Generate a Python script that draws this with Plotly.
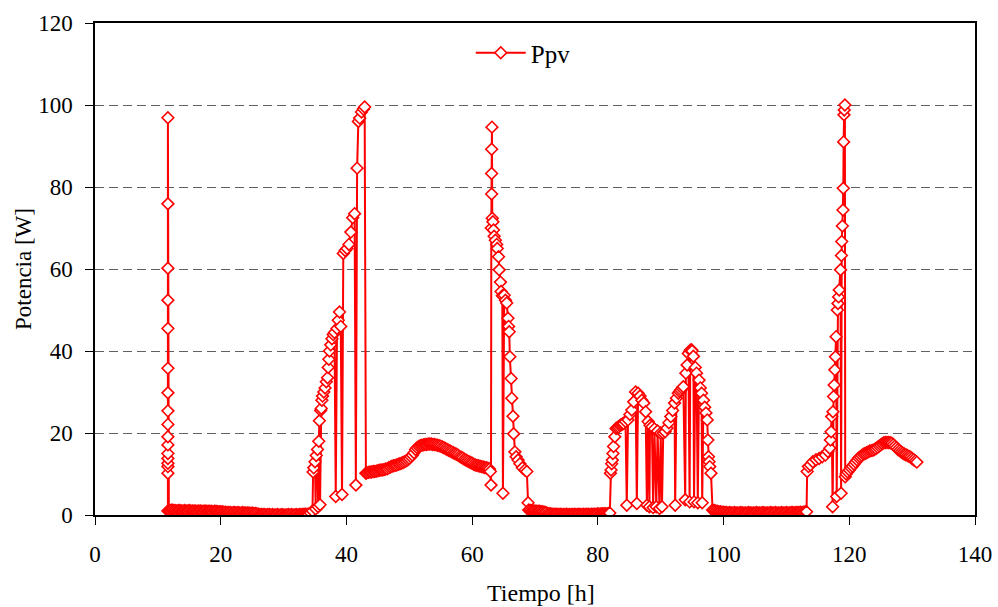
import plotly.graph_objects as go

# ---- Data: time [h] and PV power Ppv [W] ----
# spike at ~11.6 h
t_a = [11.6, 11.6, 11.6, 11.6, 11.6, 11.6, 11.6, 11.6, 11.6, 11.6,
       11.6, 11.6, 11.6, 11.6, 11.6, 11.6, 11.6]
p_a = [1.0, 10.2, 11.8, 12.6, 13.8, 15.0, 17.1, 19.1, 22.1, 25.4,
       29.8, 35.8, 45.5, 52.4, 60.2, 75.9, 96.9]

# night 11.75 - 33.75 h
t_b = [11.75, 12.0, 12.25, 12.5, 12.75, 13.0, 13.25, 13.5, 13.75, 14.0,
       14.25, 14.5, 14.75, 15.0, 15.25, 15.5, 15.75, 16.0, 16.25, 16.5,
       16.75, 17.0, 17.25, 17.5, 17.75, 18.0, 18.25, 18.5, 18.75, 19.0,
       19.25, 19.5, 19.75, 20.0, 20.25, 20.5, 20.75, 21.0, 21.25, 21.5,
       21.75, 22.0, 22.25, 22.5, 22.75, 23.0, 23.25, 23.5, 23.75, 24.0,
       24.25, 24.5, 24.75, 25.0, 25.25, 25.5, 25.75, 26.0, 26.25, 26.5,
       26.75, 27.0, 27.25, 27.5, 27.75, 28.0, 28.25, 28.5, 28.75, 29.0,
       29.25, 29.5, 29.75, 30.0, 30.25, 30.5, 30.75, 31.0, 31.25, 31.5,
       31.75, 32.0, 32.25, 32.5, 32.75, 33.0, 33.25, 33.5, 33.75]
p_b = [1.1, 1.1, 1.2, 1.1, 1.1, 1.0, 1.1, 1.1, 1.0, 1.0,
       1.1, 1.0, 1.0, 1.1, 1.0, 1.0, 1.0, 1.0, 0.9, 1.0,
       1.0, 0.9, 0.9, 1.0, 0.9, 0.9, 0.9, 0.9, 0.8, 0.9,
       0.9, 0.8, 0.8, 0.8, 0.8, 0.7, 0.7, 0.6, 0.6, 0.6,
       0.5, 0.6, 0.6, 0.5, 0.6, 0.5, 0.5, 0.6, 0.5, 0.5,
       0.5, 0.5, 0.4, 0.5, 0.4, 0.4, 0.3, 0.2, 0.1, 0.1,
       0.1, 0.1, 0.0, 0.1, 0.1, 0.0, 0.1, 0.0, 0.0, 0.1,
       0.0, 0.0, 0.1, 0.0, 0.0, 0.0, 0.1, 0.0, 0.1, 0.0,
       0.0, 0.1, 0.0, 0.1, 0.1, 0.1, 0.2, 0.2, 0.2]

# morning ramp with spikes, 34 - 43.1 h
t_c = [34.0, 34.3, 34.6, 34.7, 34.8, 35.0, 35.1, 35.2, 35.4, 35.5,
       35.6, 35.7, 35.8, 35.9, 36.0, 36.1, 36.2, 36.4, 36.6, 36.8,
       37.0, 37.1, 37.2, 37.3, 37.5, 37.7, 37.9, 38.1, 38.3, 38.5,
       38.7, 38.9, 39.1, 39.3, 39.5, 39.8, 40.1, 40.4, 40.7, 41.0,
       41.3, 41.5, 41.7, 41.9, 42.1, 42.4, 42.7, 42.9, 43.1]
p_c = [0.2, 0.5, 1.0, 10.5, 11.5, 13.0, 1.5, 14.5, 16.0, 2.0,
       18.0, 23.0, 2.5, 25.5, 26.0, 28.0, 29.0, 30.0, 31.0, 32.5,
       33.5, 36.0, 38.0, 40.0, 41.5, 43.0, 44.0, 44.5, 4.5, 45.5,
       47.5, 49.5, 46.0, 5.0, 63.8, 64.5, 65.0, 66.0, 69.0, 72.5,
       73.5, 7.3, 84.6, 96.0, 96.8, 98.3, 99.0, 99.5, 10.2]

# day curve 43.25 - 62.75 h
t_d = [43.25, 43.5, 43.75, 44.0, 44.25, 44.5, 44.75, 45.0,
       45.25, 45.5, 45.75, 46.0, 46.25, 46.5, 46.75, 47.0,
       47.25, 47.5, 47.75, 48.0, 48.25, 48.5, 48.75, 49.0,
       49.25, 49.5, 49.75, 50.0, 50.25, 50.5, 50.75, 51.0,
       51.25, 51.5, 51.75, 52.0, 52.25, 52.5, 52.75, 53.0,
       53.25, 53.5, 53.75, 54.0, 54.25, 54.5, 54.75, 55.0,
       55.25, 55.5, 55.75, 56.0, 56.25, 56.5, 56.75, 57.0,
       57.25, 57.5, 57.75, 58.0, 58.25, 58.5, 58.75, 59.0,
       59.25, 59.5, 59.75, 60.0, 60.25, 60.5, 60.75, 61.0,
       61.25, 61.5, 61.75, 62.0, 62.25, 62.5, 62.75]
p_d = [10.3, 10.4, 10.5, 10.5, 10.6, 10.6, 10.7, 10.8,
       10.9, 11.0, 11.0, 11.1, 11.2, 11.3, 11.5, 11.7,
       11.9, 12.0, 12.1, 12.2, 12.4, 12.5, 12.6, 12.8,
       13.0, 13.2, 13.5, 13.8, 14.2, 14.6, 15.2, 16.0,
       16.4, 16.7, 16.9, 17.0, 17.1, 17.2, 17.2, 17.3,
       17.3, 17.3, 17.2, 17.2, 17.1, 17.0, 16.9, 16.8,
       16.6, 16.4, 16.2, 16.0, 15.8, 15.6, 15.4, 15.2,
       15.0, 14.8, 14.6, 14.3, 14.1, 13.9, 13.6, 13.4,
       13.2, 13.0, 12.8, 12.6, 12.4, 12.2, 12.1, 12.0,
       11.9, 11.8, 11.7, 11.6, 11.5, 11.4, 11.2]

# spike and decay, 62.9 - 68.9 h
t_e = [62.9, 63.0, 63.05, 63.1, 63.1, 63.1, 63.15, 63.2, 63.3, 63.4,
       63.5, 63.7, 63.9, 64.0, 64.2, 64.3, 64.5, 64.6, 64.8, 64.9,
       65.1, 65.3, 65.5, 65.7, 65.8, 65.9, 66.0, 66.2, 66.3, 66.5,
       66.6, 66.8, 67.0, 67.3, 67.6, 68.0, 68.4, 68.7, 68.9]
p_e = [10.6, 7.3, 70.0, 78.3, 83.3, 89.2, 94.6, 72.4, 71.5, 69.5,
       68.0, 67.0, 66.0, 65.0, 63.0, 59.8, 56.8, 54.5, 53.5, 5.3,
       53.6, 52.4, 51.7, 48.0, 46.0, 44.7, 38.6, 33.3, 28.5, 24.1,
       19.8, 15.4, 14.2, 13.4, 12.5, 11.5, 11.0, 10.6, 3.0]

# night 69 - 81.75 h
t_f = [69.0, 69.25, 69.5, 69.75, 70.0, 70.25, 70.5, 70.75, 71.0, 71.25,
       71.5, 71.75, 72.0, 72.25, 72.5, 72.75, 73.0, 73.25, 73.5, 73.75,
       74.0, 74.25, 74.5, 74.75, 75.0, 75.25, 75.5, 75.75, 76.0, 76.25,
       76.5, 76.75, 77.0, 77.25, 77.5, 77.75, 78.0, 78.25, 78.5, 78.75,
       79.0, 79.25, 79.5, 79.75, 80.0, 80.25, 80.5, 80.75, 81.0, 81.25,
       81.5, 81.75]
p_f = [1.2, 1.1, 1.0, 1.0, 1.0, 0.9, 0.9, 0.9, 0.8, 0.8,
       0.7, 0.6, 0.4, 0.3, 0.3, 0.2, 0.2, 0.2, 0.2, 0.1,
       0.2, 0.1, 0.1, 0.1, 0.2, 0.1, 0.1, 0.1, 0.1, 0.2,
       0.1, 0.1, 0.2, 0.1, 0.1, 0.2, 0.1, 0.2, 0.2, 0.1,
       0.2, 0.2, 0.2, 0.2, 0.3, 0.2, 0.3, 0.3, 0.3, 0.3,
       0.3, 0.4]

# cloudy day 81.9 - 98.0 h
t_g = [81.9, 82.0, 82.1, 82.2, 82.3, 82.4, 82.5, 82.7, 82.9, 83.1,
       83.3, 83.5, 83.7, 83.9, 84.1, 84.4, 84.6, 84.8, 85.1, 85.4,
       85.7, 86.0, 86.2, 86.4, 86.7, 87.0, 87.3, 87.6, 87.8, 88.0,
       88.2, 88.3, 88.6, 88.8, 89.0, 89.3, 89.5, 89.8, 90.0, 90.2,
       90.4, 90.7, 91.0, 91.3, 91.6, 91.9, 92.2, 92.3, 92.5, 92.8,
       93.0, 93.2, 93.4, 93.6, 93.9, 94.0, 94.2, 94.4, 94.6, 94.7,
       94.9, 95.0, 95.2, 95.3, 95.5, 95.7, 95.9, 96.1, 96.3, 96.5,
       96.6, 96.8, 97.0, 97.2, 97.4, 97.5, 97.6, 97.7, 97.8, 98.0]
p_g = [0.5, 10.2, 11.0, 12.5, 13.4, 15.0, 16.7, 19.1, 21.1, 21.3,
       21.5, 21.8, 22.0, 22.2, 22.3, 22.8, 2.4, 23.2, 24.5, 25.6,
       27.6, 30.0, 2.8, 29.7, 29.0, 28.0, 27.3, 25.2, 2.4, 22.8,
       2.0, 21.9, 21.5, 1.8, 21.0, 2.0, 20.5, 1.6, 20.0, 2.0,
       20.0, 20.3, 21.2, 22.5, 24.0, 25.5, 27.3, 2.4, 28.5, 29.7,
       30.1, 30.5, 30.9, 31.3, 3.7, 34.6, 36.6, 39.4, 3.2, 40.2,
       40.3, 40.0, 38.7, 3.2, 36.0, 34.6, 3.0, 32.9, 31.0, 29.7,
       3.0, 28.0, 26.3, 24.9, 23.2, 18.3, 14.2, 13.0, 11.8, 10.2]

# night 98.25 - 113.0 h
t_h = [98.25, 98.5, 98.75, 99.0, 99.25, 99.5, 99.75, 100.0, 100.25, 100.5,
       100.75, 101.0, 101.25, 101.5, 101.75, 102.0, 102.25, 102.5, 102.75, 103.0,
       103.25, 103.5, 103.75, 104.0, 104.25, 104.5, 104.75, 105.0, 105.25, 105.5,
       105.75, 106.0, 106.25, 106.5, 106.75, 107.0, 107.25, 107.5, 107.75, 108.0,
       108.25, 108.5, 108.75, 109.0, 109.25, 109.5, 109.75, 110.0, 110.25, 110.5,
       110.75, 111.0, 111.25, 111.5, 111.75, 112.0, 112.25, 112.5, 112.75, 113.0]
p_h = [1.2, 1.1, 1.0, 0.9, 0.8, 0.8, 0.7, 0.7, 0.6, 0.6,
       0.5, 0.6, 0.5, 0.5, 0.6, 0.5, 0.5, 0.5, 0.6, 0.5,
       0.5, 0.5, 0.5, 0.6, 0.5, 0.5, 0.5, 0.5, 0.6, 0.5,
       0.5, 0.5, 0.6, 0.5, 0.5, 0.5, 0.5, 0.6, 0.5, 0.5,
       0.6, 0.5, 0.5, 0.5, 0.6, 0.5, 0.5, 0.6, 0.5, 0.5,
       0.6, 0.6, 0.5, 0.6, 0.6, 0.6, 0.7, 0.6, 0.7, 0.8]

# morning ramp and spike, 113.2 - 119.35 h
t_i = [113.2, 113.3, 113.5, 113.8, 114.2, 114.7, 115.2, 115.7, 116.2, 116.6,
       116.9, 117.0, 117.1, 117.2, 117.35, 117.4, 117.5, 117.6, 117.7, 117.8,
       117.9, 118.0, 118.1, 118.2, 118.3, 118.4, 118.6, 118.7, 118.75, 118.8,
       118.9, 119.0, 119.05, 119.1, 119.15, 119.2, 119.3, 119.35]
p_i = [0.8, 10.6, 11.8, 12.2, 13.0, 13.5, 13.8, 14.2, 14.6, 15.5,
       16.3, 18.3, 20.3, 24.0, 2.0, 25.2, 28.9, 31.7, 35.4, 38.6,
       43.5, 4.5, 50.0, 51.6, 53.2, 54.9, 59.8, 5.3, 63.3, 66.7,
       70.5, 74.4, 79.7, 91.0, 97.6, 98.8, 100.0, 9.3]

# day curve 119.5 - 130.75 h
t_j = [119.5, 119.75, 120.0, 120.25, 120.5, 120.75, 121.0, 121.25,
       121.5, 121.75, 122.0, 122.25, 122.5, 122.75, 123.0, 123.25,
       123.5, 123.75, 124.0, 124.25, 124.5, 124.75, 125.0, 125.25,
       125.5, 125.75, 126.0, 126.25, 126.5, 126.75, 127.0, 127.25,
       127.5, 127.75, 128.0, 128.25, 128.5, 128.75, 129.0, 129.25,
       129.5, 129.75, 130.0, 130.25, 130.5, 130.75]
p_j = [10.0, 10.5, 11.0, 11.5, 11.9, 12.4, 12.9, 13.4,
       13.9, 14.2, 14.5, 14.8, 15.0, 15.2, 15.4, 15.6,
       15.7, 15.8, 16.0, 16.2, 16.5, 16.8, 17.1, 17.4,
       17.6, 17.7, 17.7, 17.7, 17.6, 17.5, 17.2, 16.8,
       16.4, 16.0, 15.7, 15.4, 15.1, 14.9, 14.7, 14.5,
       14.3, 14.1, 13.8, 13.5, 13.2, 12.9]

time_h = t_a + t_b + t_c + t_d + t_e + t_f + t_g + t_h + t_i + t_j
ppv_w = p_a + p_b + p_c + p_d + p_e + p_f + p_g + p_h + p_i + p_j
assert len(time_h) == len(ppv_w)

x_ticks = [0, 20, 40, 60, 80, 100, 120, 140]
y_ticks = [0, 20, 40, 60, 80, 100, 120]
series_name = "Ppv"
x_title = "Tiempo [h]"
y_title = "Potencia [W]"

FONT = "Liberation Serif, Times New Roman, serif"
RED = "#FF0000"

fig = go.Figure()
fig.add_trace(go.Scatter(
    x=time_h, y=ppv_w, mode="lines+markers", name=series_name,
    line=dict(color=RED, width=2),
    marker=dict(symbol="diamond", size=9, color="white", line=dict(width=1.6, color=RED)),
))

fig.update_layout(
    width=998, height=607,
    margin=dict(l=95, r=23, t=23, b=92, autoexpand=False),
    paper_bgcolor="white", plot_bgcolor="white",
    font=dict(family=FONT, size=23, color="black"),
    showlegend=True,
    legend=dict(x=0.427, y=0.939, xanchor="left", yanchor="middle", itemwidth=50,
                bgcolor="rgba(0,0,0,0)", font=dict(family=FONT, size=25)),
    annotations=[dict(
        text=x_title, xref="paper", yref="paper", x=0.507, y=-0.1585,
        xanchor="center", yanchor="middle", showarrow=False,
        font=dict(family=FONT, size=24, color="black"),
    )],
)
fig.update_xaxes(
    range=[0, 140], tickvals=x_ticks, ticks="outside", ticklen=8, tickcolor="black",
    ticklabelstandoff=10, automargin=False,
    showline=True, linecolor="black", linewidth=1.5, mirror=True,
    showgrid=False, zeroline=False,
    tickfont=dict(family=FONT, size=23),
)
fig.update_yaxes(
    range=[0, 120], tickvals=y_ticks, ticks="outside", ticklen=8, tickcolor="black",
    ticklabelstandoff=8, automargin=False,
    showline=True, linecolor="black", linewidth=1.5, mirror=True,
    showgrid=True, gridcolor="#606060", gridwidth=1, griddash="9px,5px",
    zeroline=False,
    title=dict(text=y_title, font=dict(family=FONT, size=23), standoff=0),
    tickfont=dict(family=FONT, size=23),
)

fig.write_html("out.html")
